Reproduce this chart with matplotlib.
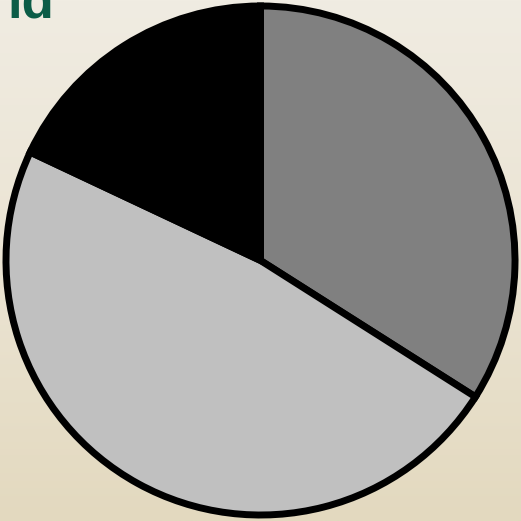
import numpy as np
import matplotlib
matplotlib.use("Agg")
import matplotlib.pyplot as plt
from matplotlib.colors import LinearSegmentedColormap

# Data
categories = ["A", "B", "C"]
values = [34, 48, 18]
colors = ["#808080", "#c0c0c0", "#000000"]

W = H = 521
fig = plt.figure(figsize=(W / 100, H / 100), dpi=100)

# Background gradient (slide-like beige)
bg = fig.add_axes([0, 0, 1, 1])
bg.set_axis_off()
cmap = LinearSegmentedColormap.from_list("bg", ["#f0ece2", "#ebe4d3", "#e3d9bf"])
grad = np.linspace(0, 1, 256).reshape(-1, 1)
bg.imshow(grad, aspect="auto", cmap=cmap, extent=[0, 1, 0, 1], origin="upper")
bg.set_xlim(0, 1)
bg.set_ylim(0, 1)

# Partial slide text in green
green = "#0b5c47"
fig.text(7 / W, 1 - 18 / H, "ld", color=green, fontsize=38, fontweight="bold",
         family="Liberation Sans", ha="left", va="baseline")
fig.text(3 / W, 1 - 497 / H, "n", color=green, fontsize=38, fontweight="bold",
         family="Liberation Sans", ha="right", va="baseline")

ax = fig.add_axes([0, 0, 1, 1])
ax.set_axis_off()
ax.pie(values, colors=colors, startangle=90, counterclock=False, radius=0.977,
       wedgeprops=dict(edgecolor="black", linewidth=5, joinstyle="miter"))
ax.set_xlim(-1, 1)
ax.set_ylim(-1, 1)
ax.set_aspect("equal")

fig.savefig("out.png", dpi=100)
